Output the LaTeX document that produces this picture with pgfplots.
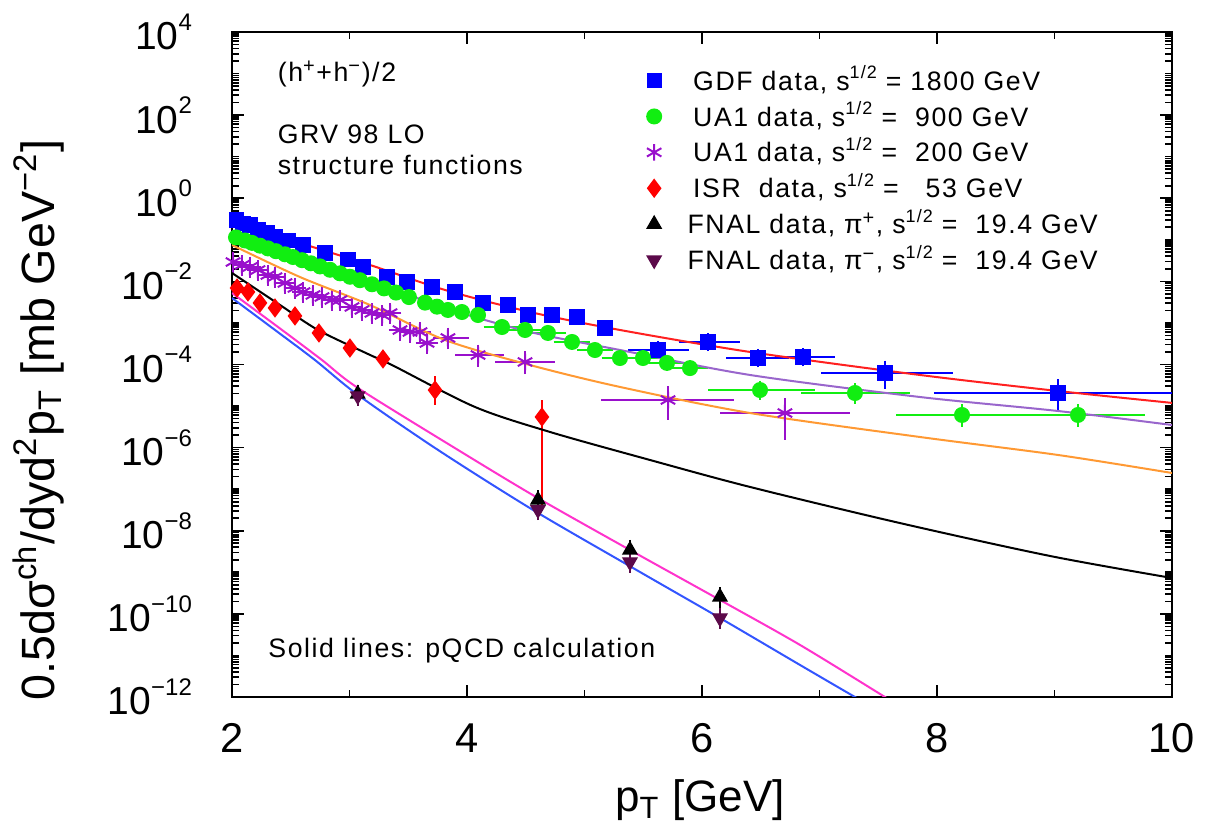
\documentclass[border=0pt]{standalone}
\usepackage{fontspec}
\setmainfont{Liberation Sans}
\newfontfamily\lfont{Liberation Sans}[LetterSpace=6]
\usepackage{pgfplots}
\pgfplotsset{compat=1.18}
\definecolor{cblue}{HTML}{0000FF}
\definecolor{cgreen}{HTML}{11EE11}
\definecolor{cviol}{HTML}{9910CC}
\definecolor{cred}{HTML}{FF0000}
\definecolor{cmaroon}{HTML}{5C0A4A}
\definecolor{lred}{HTML}{FF2020}
\definecolor{lpurp}{HTML}{9966CC}
\definecolor{lorange}{HTML}{FF9933}
\definecolor{lmag}{HTML}{FF33CC}
\definecolor{lblue}{HTML}{3355FF}
\newcommand{\tl}[1]{10\raisebox{0.5em}{\fontsize{7.2}{7}\selectfont #1}}
\newcommand{\sq}{\raisebox{0.42em}{\fontsize{5.4}{6}\selectfont 1/2}}
\begin{document}
\begin{tikzpicture}
\gdef\myminor{1e4}
\foreach \n in {-12,...,3}{\foreach \m in {2,...,9}{\xdef\myminor{\myminor,\m e\n}}}
\xdef\myminor{\myminor,1e3,1e1,1e-1,1e-3,1e-5,1e-7,1e-9,1e-11}
\begin{axis}[
  at={(0,0)}, anchor=south west,
  scale only axis, width=282pt, height=199.5pt,
  ymode=log, xmin=2, xmax=10, ymin=1e-12, ymax=1e4,
  xtick={2,4,6,8,10}, minor xtick={3,5,7,9},
  ytick={1e-12,1e-10,1e-8,1e-6,1e-4,1e-2,1,1e2,1e4},
  yticklabels={\tl{−12},\tl{−10},\tl{−8},\tl{−6},\tl{−4},\tl{−2},\tl{0},\tl{2},\tl{4}},
  minor ytick/.expanded={\myminor},
  tick align=inside,
  major tick length=3.5pt, minor tick length=2pt,
  tick style={black, line width=0.5pt},
  axis line style={line width=0.6pt},
  /pgf/number format/assume math mode=true,
  xticklabel style={font=\fontsize{12.5}{13}\selectfont, yshift=-4.5pt},
  yticklabel style={font=\fontsize{11.7}{12}\selectfont, xshift=-8.5pt},
  xlabel={p\textsubscript{T} [GeV]},
  ylabel={0.5dσ\textsuperscript{ch}/dyd\textsuperscript{2}p\textsubscript{T} [mb GeV\textsuperscript{−2}]},
  xlabel style={font=\fontsize{13.2}{14}\selectfont, at={(axis description cs:0.498,-0.155)}, anchor=center},
  ylabel style={font=\fontsize{14}{15}\selectfont, at={(axis description cs:-0.206,0.4165)}, anchor=center},
  legend style={draw=none, fill=none, at={(axis description cs:0.43,0.970)}, anchor=north west,
    font=\lfont\fontsize{8}{9}\selectfont, row sep=-2.0pt},
  legend cell align=left,
  clip=true,
  error bars/error bar style={line width=0.6pt},
  error bars/error mark options={line width=0.6pt, mark size=2pt},
]
% GDF 1800
\addplot[only marks, mark=square*, mark size=2.1pt, color=cblue,
  error bars/.cd, x dir=both, x explicit, y dir=both, y explicit]
coordinates {
(2.04,0.30) (2.094,0.25) (2.153,0.227) (2.221,0.172) (2.298,0.146) (2.366,0.117)
(2.48,0.095) (2.604,0.075) (2.791,0.048) (2.987,0.033) (3.115,0.022) (3.319,0.0127)
(3.489,0.0097) (3.702,0.0073) (3.898,0.0055) (4.136,0.0030) (4.349,0.0027) (4.519,0.00155)
(4.723,0.00155) (4.936,0.00139) (5.174,0.00076)
(5.626,2.24e-4) += (0.204,3.0e-5) -= (0.196,3.0e-5)
(6.051,3.48e-4) += (0.213,4.5e-5) -= (0.187,4.5e-5)
(6.477,1.43e-4) += (0.204,2.0e-5) -= (0.213,2.0e-5)
(6.860,1.51e-4) += (0.212,2.0e-5) -= (0.179,2.0e-5)
(7.557,6.2e-5) += (0.52,2.4e-5) -= (0.485,2.4e-5)
(9.03,2.06e-5) += (1.5,0.95e-5) -= (1.0,0.95e-5)
};
\addlegendentry{\hspace{7.5pt}GDF data, s\sq\ = 1800 GeV}
% UA1 900
\addplot[only marks, mark=*, mark size=2.2pt, color=cgreen,
  error bars/.cd, x dir=both, x explicit, y dir=both, y explicit]
coordinates {
(2.034,0.1143) (2.111,0.0962) (2.170,0.0843) (2.238,0.0722) (2.306,0.0621) (2.374,0.0532)
(2.451,0.0448) (2.519,0.0385) (2.596,0.0323) (2.672,0.0272) (2.749,0.0229) (2.834,0.0190)
(2.919,0.0156) (3.004,0.0129) (3.089,0.01067) (3.191,0.00851) (3.294,0.00678) (3.396,0.00537)
(3.506,0.00419) (3.643,0.00308) (3.745,0.00246) (3.838,0.00205) (3.957,0.00183) (4.094,0.00155)
(4.298,7.98e-4) += (0.1,0) -= (0.1,0)
(4.494,6.76e-4) += (0.1,0) -= (0.1,0)
(4.689,5.73e-4) += (0.1,0) -= (0.1,0)
(4.894,3.48e-4) += (0.1,0) -= (0.1,0)
(5.089,2.23e-4) += (0.1,0) -= (0.1,0)
(5.302,1.43e-4) += (0.1,0) -= (0.1,0)
(5.498,1.43e-4) += (0.1,0) -= (0.1,0)
(5.702,1.09e-4) += (0.1,0) -= (0.1,0)
(5.898,8.2e-5) += (0.1,0) -= (0.1,0)
(6.494,2.43e-5) += (0.408,4e-6) -= (0.383,4e-6)
(7.302,2.06e-5) += (0.41,4e-6) -= (0.40,4e-6)
(8.213,6.1e-6) += (0.493,1.5e-6) -= (0.502,1.5e-6)
(9.20,6.1e-6) += (0.511,1.5e-6) -= (0.494,1.5e-6)
};
\addlegendentry{\hspace{7.5pt}UA1 data, s\sq\ = \ 900 GeV}
% UA1 200
\addplot[only marks, mark=asterisk, mark size=2.5pt, color=cviol, mark options={line width=0.6pt},
  error bars/.cd, x dir=both, x explicit, y dir=both, y explicit]
coordinates {
(2.009,0.0292) +- (0.04,0.006) (2.085,0.0248) +- (0.04,0.005) (2.153,0.0222) +- (0.04,0.0045)
(2.221,0.0188) +- (0.04,0.004) (2.306,0.0142) +- (0.04,0.003) (2.366,0.0127) +- (0.04,0.0026)
(2.451,0.00914) +- (0.04,0.0019) (2.536,0.00693) +- (0.04,0.0014) (2.604,0.00555) +- (0.04,0.0011)
(2.689,0.00470) +- (0.04,0.001) (2.766,0.00421) +- (0.04,0.0009) (2.851,0.00356) +- (0.04,0.0007)
(2.919,0.00356) +- (0.04,0.0007) (3.021,0.00242) +- (0.04,0.0005) (3.106,0.00205) +- (0.04,0.0004)
(3.191,0.00173) +- (0.04,0.00035) (3.277,0.00155) +- (0.04,0.0003) (3.345,0.00173) +- (0.04,0.00035)
(3.430,6.76e-4) +- (0.04,1.4e-4) (3.515,6.05e-4) +- (0.04,1.2e-4) (3.600,6.05e-4) +- (0.04,1.2e-4)
(3.660,3.29e-4) +- (0.04,0.7e-4)
(3.838,4.35e-4) += (0.119,1.0e-4) -= (0.068,1.0e-4)
(4.094,1.69e-4) += (0.161,0.4e-4) -= (0.137,0.4e-4)
(4.494,1.15e-4) += (0.195,0.3e-4) -= (0.196,0.3e-4)
(5.711,1.4e-5) += (0.502,0.66e-5) -= (0.511,0.72e-5)
(6.706,6.8e-6) += (0.494,3.8e-6) -= (0.493,4.55e-6)
};
\addlegendentry{\hspace{7.5pt}UA1 data, s\sq\ = \ 200 GeV}
% ISR 53
\addplot[only marks, mark=diamond*, mark size=2.6pt, color=cred,
  error bars/.cd, y dir=both, y explicit]
coordinates {
(2.043,0.00693) (2.136,0.00555) (2.238,0.00302) (2.366,0.00229) (2.536,0.00147)
(2.740,5.73e-4) (3.004,2.49e-4) (3.285,1.36e-4)
(3.728,2.43e-5) += (0,1.16e-5) -= (0,0.87e-5)
(4.638,5.46e-6) += (0,4.0e-6) -= (0,5.41e-6)
};
\addlegendentry{\hspace{7.5pt}ISR \ data, s\sq\ = \ \ 53 GeV}
% FNAL pi+
\addplot[only marks, mark=triangle*, mark size=2.4pt, color=black,
  error bars/.cd, y dir=both, y explicit]
coordinates {
(3.07,1.95e-5) +- (0,0.3e-5) (4.604,5.5e-8) +- (0,1e-8) (5.387,3.44e-9) +- (0,0.7e-9) (6.153,2.55e-10) +- (0,0.5e-10)
};
\addlegendentry{\hspace{5.8pt}FNAL data, π\textsuperscript{+}, s\sq\ = \ 19.4 GeV}
% FNAL pi-
\addplot[only marks, mark=triangle*, mark options={rotate=180}, mark size=2.4pt, color=cmaroon,
  error bars/.cd, y dir=both, y explicit]
coordinates {
(3.07,1.75e-5) +- (0,0.3e-5) (4.604,3.2e-8) +- (0,0.6e-8) (5.387,1.77e-9) +- (0,0.35e-9) (6.153,7.96e-11) +- (0,1.6e-11)
};
\addlegendentry{\hspace{5.8pt}FNAL data, π\textsuperscript{−}, s\sq\ = \ 19.4 GeV}
% pQCD curves
\addplot[forget plot, lred, line width=0.6pt, smooth] coordinates {
(2.0,0.284) (2.579,0.0838) (3.174,0.0248) (3.813,0.0062) (4.536,0.00183) (5.302,6.76e-4)
(6.409,2.0e-4) (7.855,5.59e-5) (9.030,2.30e-5) (10.0,1.19e-5)};
\addplot[forget plot, lpurp, line width=0.6pt, smooth] coordinates {
(2.0,0.146) (2.579,0.0385) (3.174,0.0108) (3.813,0.00229) (4.536,6.05e-4) (5.302,2.23e-4)
(6.409,5.59e-5) (7.855,1.65e-5) (9.030,7.6e-6) (10.0,3.5e-6)};
\addplot[forget plot, lorange, line width=0.6pt, smooth] coordinates {
(2.0,0.075) (2.579,0.0127) (3.174,0.0027) (3.813,3.88e-4) (4.536,9.7e-5) (5.302,2.88e-5)
(6.409,6.8e-6) (7.855,1.80e-6) (9.030,6.65e-7) (10.0,2.45e-7)};
\addplot[forget plot, black, line width=0.6pt, smooth] coordinates {
(2.0,0.0159) (2.409,0.0027) (2.732,6.76e-4) (3.157,1.79e-4) (3.362,9.7e-5) (4.068,9.5e-6)
(4.706,2.38e-6) (5.557,5.04e-7) (6.409,1.13e-7) (7.685,1.53e-8) (8.962,2.47e-9) (10.0,7.3e-10)};
\addplot[forget plot, lmag, line width=0.6pt, smooth] coordinates {
(2.0,0.00525) (2.426,6.76e-4) (2.766,1.28e-4) (3.072,2.72e-5) (3.923,8.8e-7) (4.604,6.1e-8)
(5.387,3.44e-9) (6.153,2.16e-10) (6.834,1.79e-11) (7.557,1e-12) (7.7,5.6e-13)};
\addplot[forget plot, lblue, line width=0.6pt, smooth] coordinates {
(2.0,0.00398) (2.366,6.76e-4) (2.706,1.28e-4) (3.072,1.85e-5) (3.753,8.8e-7) (4.562,3.16e-8)
(5.413,1.27e-9) (6.153,7.96e-11) (6.834,5.9e-12) (7.302,1e-12) (7.45,5.9e-13)};
\node[anchor=west, inner sep=0pt, font=\lfont\fontsize{8}{9}\selectfont] at (axis description cs:0.048,0.937) {(h\textsuperscript{+}+h\textsuperscript{−})/2};
\node[anchor=west, inner sep=0pt, font=\lfont\fontsize{8}{9.5}\selectfont, align=left] at (axis description cs:0.048,0.823) {GRV 98 LO\\structure functions};
\node[anchor=west, inner sep=0pt, font=\lfont\fontsize{8}{9}\selectfont] at (axis description cs:0.038,0.069) {Solid lines: pQCD calculation};
\end{axis}
\pgfresetboundingbox
\path[use as bounding box] (-69.6pt,-41.4pt) rectangle (292.8pt,209.1pt);
\end{tikzpicture}
\end{document}
